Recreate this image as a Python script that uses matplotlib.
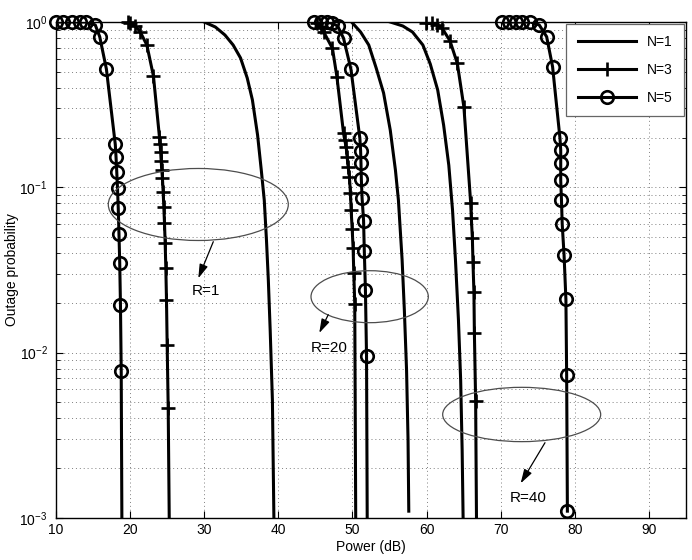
import numpy as np
import matplotlib
matplotlib.use("Agg")
import matplotlib.pyplot as plt
from matplotlib.lines import Line2D
from matplotlib.patches import Ellipse

plt.rcParams['font.family'] = ['Liberation Sans', 'DejaVu Sans']

# ---- data (x: Power in dB, y: outage probability) ----
# R = 1
r1_n1_x = [30.0, 31.5, 32.8, 33.9, 34.9, 35.8, 36.5, 37.2, 37.7, 38.1, 38.4, 38.65, 38.9, 39.2, 39.4, 39.45]
r1_n1_y = [1.0, 0.933, 0.834, 0.726, 0.606, 0.459, 0.338, 0.207, 0.127, 0.0838, 0.0479, 0.0275, 0.0137, 0.00516, 0.00101, 0.0009]

r1_n3_x = [19.7, 20.0, 20.7, 21.35, 22.26, 23.15, 23.96, 24.05, 24.12, 24.19, 24.28, 24.36, 24.46, 24.55,
           24.64, 24.73, 24.82, 24.91, 25.0, 25.14, 25.3]
r1_n3_y = [0.995, 0.982, 0.946, 0.874, 0.726, 0.471, 0.2015, 0.183, 0.164, 0.145, 0.127, 0.114, 0.0937, 0.0761,
           0.0609, 0.0461, 0.0327, 0.0208, 0.0112, 0.00464, 0.0008]

r1_n5_x = [10.0, 11.0, 12.1, 13.2, 14.1, 15.3, 15.9, 16.8, 18.0, 18.1, 18.2, 18.3, 18.4, 18.5, 18.6, 18.7, 18.8, 18.9]
r1_n5_y = [1.0, 1.0, 1.0, 1.0, 1.0, 0.96, 0.815, 0.52, 0.182, 0.153, 0.124, 0.099, 0.075, 0.052, 0.035, 0.0194,
           0.0078, 0.0008]

# R = 20
r20_n1_x = [50.0, 51.1, 52.2, 53.2, 54.2, 55.1, 55.8, 56.2, 56.7, 57.0, 57.3, 57.5, 57.6]
r20_n1_y = [0.986, 0.870, 0.726, 0.527, 0.372, 0.222, 0.127, 0.0838, 0.0364, 0.0182, 0.00785, 0.00297, 0.0011]

r20_n3_x = [45.2, 45.7, 46.1, 47.3, 47.9, 48.8, 48.96, 49.15, 49.28, 49.42, 49.59, 49.73, 49.82, 49.96, 50.09,
            50.18, 50.31, 50.45]
r20_n3_y = [0.99, 0.937, 0.874, 0.693, 0.467, 0.212, 0.193, 0.176, 0.153, 0.133, 0.116, 0.0922, 0.0729, 0.0563,
            0.0428, 0.0304, 0.0197, 0.0008]

r20_n5_x = [44.8, 45.7, 46.5, 47.3, 48.0, 48.8, 49.8, 51.0, 51.1, 51.15, 51.2, 51.3, 51.5, 51.6, 51.75, 51.9, 52.0]
r20_n5_y = [1.0, 1.0, 1.0, 0.98, 0.946, 0.797, 0.517, 0.198, 0.167, 0.14, 0.112, 0.086, 0.063, 0.041, 0.024,
            0.0095, 0.0008]

# R = 40
r40_n1_x = [55.1, 56.8, 58.1, 59.5, 60.5, 61.5, 62.3, 63.0, 63.5, 63.9, 64.3, 64.6, 64.8, 64.93, 64.95]
r40_n1_y = [1.0, 0.946, 0.870, 0.726, 0.557, 0.388, 0.238, 0.136, 0.0731, 0.0363, 0.0158, 0.00681, 0.00258,
            0.0010, 0.0009]

r40_n3_x = [59.9, 60.8, 61.45, 62.1, 63.15, 64.15, 65.04, 65.95, 66.04, 66.18, 66.26, 66.39, 66.45, 66.62, 66.75]
r40_n3_y = [0.99, 0.982, 0.959, 0.916, 0.771, 0.562, 0.305, 0.0806, 0.0649, 0.0492, 0.0354, 0.0233, 0.0132,
            0.00512, 0.0008]

r40_n5_x = [70.2, 71.1, 72.0, 72.9, 74.0, 75.2, 76.2, 77.0, 78.0, 78.1, 78.1, 78.1, 78.2, 78.3, 78.55, 78.8,
            78.9, 79.0]
r40_n5_y = [1.0, 1.0, 1.0, 1.0, 1.0, 0.96, 0.815, 0.537, 0.198, 0.168, 0.14, 0.11, 0.084, 0.06, 0.039, 0.021,
            0.0073, 0.0011]

legend_labels = ['N=1', 'N=3', 'N=5']
group_labels = ['R=1', 'R=20', 'R=40']

# ---- plot ----
fig = plt.figure(figsize=(6.92, 5.6), dpi=100)
ax = fig.add_axes([0.0809, 0.075, 0.9104, 0.8857])
ax.set_yscale('log')
ax.set_xlim(10, 95)
ax.set_ylim(1e-3, 1)

lw = 2.2
circ = dict(marker='o', markersize=9, markerfacecolor='none', markeredgecolor='k', markeredgewidth=1.9)
plus = dict(marker='+', markersize=10, markeredgecolor='k', markeredgewidth=1.9)


def draw(x, y, mk=None):
    x = np.asarray(x)
    y = np.asarray(y)
    ax.plot(x, y, color='k', lw=lw, zorder=3)
    if mk is not None:
        keep = y >= 1e-3
        ax.plot(x[keep], y[keep], linestyle='none', clip_on=False, zorder=4, **mk)


for xs, ys in [(r1_n1_x, r1_n1_y), (r20_n1_x, r20_n1_y), (r40_n1_x, r40_n1_y)]:
    draw(xs, ys)
for xs, ys in [(r1_n3_x, r1_n3_y), (r20_n3_x, r20_n3_y), (r40_n3_x, r40_n3_y)]:
    draw(xs, ys, plus)
for xs, ys in [(r1_n5_x, r1_n5_y), (r20_n5_x, r20_n5_y), (r40_n5_x, r40_n5_y)]:
    draw(xs, ys, circ)

# grid / ticks like MATLAB
ax.set_xticks(np.arange(10, 100, 10))
ax.grid(True, which='major', linestyle=(0, (1, 3)), color='0.5', lw=0.7)
ax.grid(True, which='minor', axis='y', linestyle=(0, (1, 3)), color='0.5', lw=0.7)
ax.tick_params(which='both', direction='in', top=True, right=True, labelsize=10)
ax.tick_params(which='major', length=5)
ax.tick_params(which='minor', length=3)
ax.tick_params(axis='y', pad=6)
for s in ax.spines.values():
    s.set_linewidth(1.0)

ax.set_xlabel('Power (dB)', fontsize=10, labelpad=2)
ax.set_ylabel('Outage probability', fontsize=10, labelpad=0)

# group ellipses, arrows and labels (axes fraction coords)
ell = [((0.2259, 0.6321), 0.2857, 0.1452),
       ((0.4979, 0.4462), 0.1862, 0.1048),
       ((0.7392, 0.2087), 0.2508, 0.1095)]
arrows = [((0.2497, 0.5571), (0.2259, 0.4833)),
          ((0.4322, 0.4099), (0.4179, 0.3730)),
          ((0.7762, 0.1518), (0.7376, 0.0700))]
texts = [(0.2381, 0.4577), (0.4333, 0.3427), (0.7492, 0.0403)]
for (c, w, h), (a0, a1), tpos, lab in zip(ell, arrows, texts, group_labels):
    ax.add_patch(Ellipse(c, w, h, transform=ax.transAxes, facecolor='none',
                         edgecolor='0.3', lw=0.9, zorder=5))
    ax.annotate('', xy=a1, xytext=a0, xycoords='axes fraction', textcoords='axes fraction',
                arrowprops=dict(arrowstyle='-|>,head_length=0.65,head_width=0.2', color='k',
                                lw=0.9, mutation_scale=13, shrinkA=0, shrinkB=0), zorder=5)
    ax.text(tpos[0], tpos[1], lab, transform=ax.transAxes, ha='center', va='center',
            fontsize=11, zorder=5)

handles = [Line2D([], [], color='k', lw=lw),
           Line2D([], [], color='k', lw=lw, **plus),
           Line2D([], [], color='k', lw=lw, **circ)]
leg = ax.legend(handles, legend_labels, loc='upper right', fontsize=10, handlelength=4.2,
                labelspacing=1.0, borderpad=0.8, borderaxespad=0.15, fancybox=False,
                edgecolor='0.4', framealpha=1)
leg.get_frame().set_linewidth(0.9)
leg.set_zorder(10)

fig.savefig('out.png', dpi=100)
